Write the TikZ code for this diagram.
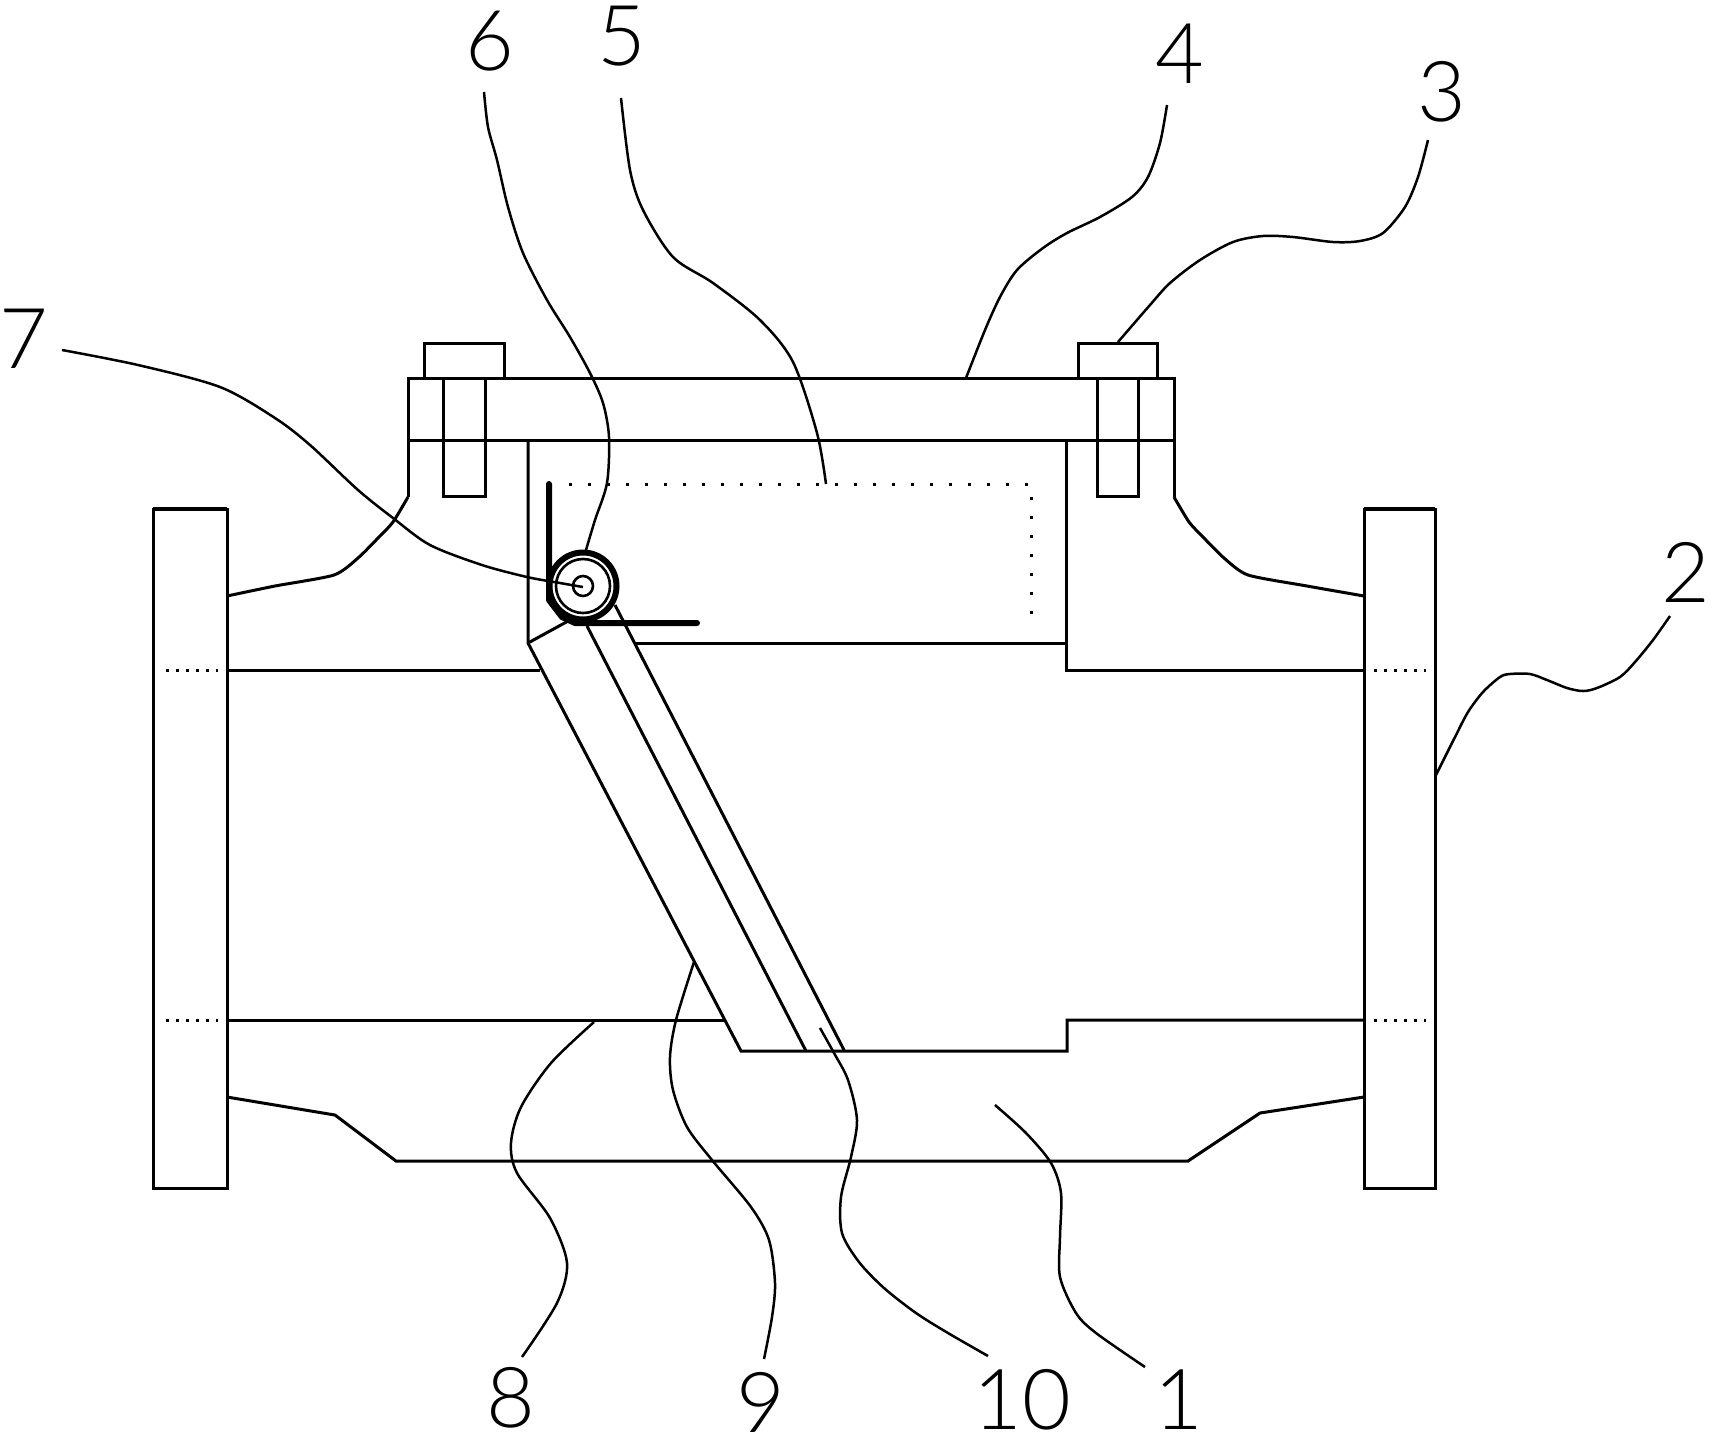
\documentclass[tikz,border=0pt]{standalone}
\usepackage{fontspec}
\newfontfamily\labelfont{Lato Light}
\tikzset{
    part/.style={draw, line width=1.5pt},
    leader/.style={draw, line width=1.25pt},
    heavy/.style={draw, line width=3pt, line cap=round, line join=round},
    dots/.style={draw, line width=1.5pt, dash pattern=on 1.5pt off 8pt},
    shortdots/.style={draw, line width=1.5pt, dash pattern=on 1.5pt off 3.5pt},
    num/.style={font=\labelfont\fontsize{42}{42}\selectfont, inner sep=0pt}
}
\begin{document}
\begin{tikzpicture}[x=.5pt, y=-.5pt]
    \useasboundingbox (0,0) rectangle (1718,1442);

    \draw[part] (153,509) rectangle (227,1188);
    \draw[part] (1364,509) rectangle (1435,1188);
    \draw[part, line width=2.2pt] (153,509) -- (227,509);
    \draw[part, line width=2.2pt] (1364,509) -- (1435,509);
    \draw[part] (408,378) rectangle (1174,440);
    \draw[part] (424,378) |- (504,343) -- (504,378);
    \draw[part] (1078,378) |- (1157,343) -- (1157,378);
    \draw[part] (443,378) rectangle (485,496);
    \draw[part] (1097,378) rectangle (1138,496);

    \draw[part] plot[smooth, tension=.4] coordinates {(408,497) (393,522) (379,537) (358,558) (334,575) (275,586) (227,596)};
    \draw[part] (408,440) -- (408,497);
    \draw[part] plot[smooth, tension=.4] coordinates {(1174,497) (1189,522) (1203,537) (1224,558) (1248,575) (1307,586) (1364,596)};
    \draw[part] (1174,440) -- (1174,497);
    \draw[part] (227,1097) -- (335,1115) -- (396,1161) -- (1188,1161) -- (1260,1113) -- (1364,1097);

    \draw[part] (227,670) -- (540,670);
    \draw[part] (227,1020) -- (725,1020);
    \draw[part] (528,440) -- (528,643) -- (741,1051) -- (1067,1051) -- (1067,1020) -- (1364,1020);
    \draw[part] (635,643) -- (1066,643) -- (1066,440);
    \draw[part] (1066,643) -- (1066,670) -- (1364,670);
    \draw[part] (528,643) -- (570,620);
    \draw[part] (587,626) -- (806,1051);
    \draw[part] (615,605) -- (844,1050);

    \draw[dots] (569,484) -- (1031,484) -- (1031,622);
    \foreach \yy in {670,1020} {
        \draw[shortdots] (166,\yy) -- (218,\yy);
        \draw[shortdots] (1374,\yy) -- (1426,\yy);
    }

    \node[circle, draw, line width=3pt, minimum size=33.5pt, inner sep=0pt] (roller) at (583,586) {};
    \node[circle, draw, line width=1.3pt, minimum size=27pt, inner sep=0pt] (sleeve) at (583,586) {};
    \node[circle, draw, line width=1.3pt, minimum size=10pt, inner sep=0pt] (axle) at (583,586) {};
    \draw[heavy] (549,484) -- (549,600) -- (562,617) -- (575,623) -- (697,623);

    \node[num] (n1) at (1179,1400) {1};
    \node[num] (n2) at (1686,572) {2};
    \node[num] (n3) at (1442,92) {3};
    \node[num] (n4) at (1180,54) {4};
    \node[num] (n5) at (622,36) {5};
    \node[num] (n6) at (490,41) {6};
    \node[num] (n7) at (24,339) {7};
    \node[num] (n8) at (511,1398) {8};
    \node[num] (n9) at (761,1402) {9};
    \node[num] (n10) at (1022,1400) {10};

    \coordinate (a1) at (1145,1367);
    \coordinate (a2) at (1670,616);
    \coordinate (a3) at (1428,140);
    \coordinate (a4) at (1167,105);
    \coordinate (a5) at (621,98);
    \coordinate (a6) at (484,92);
    \coordinate (a7) at (62,350);
    \coordinate (a8) at (522,1357);
    \coordinate (a9) at (764,1359);
    \coordinate (a10) at (988,1356);

    \draw[leader] plot[smooth] coordinates {(a1) (1096,1333) (1076,1313) (1060,1277) (1060,1237) (1061,1193) (1051,1163) (1026,1133) (995,1105)};
    \draw[leader] plot[smooth] coordinates {(a2) (1653,640) (1635,662) (1620,677) (1597,688) (1583,691) (1567,688) (1547,680) (1530,674) (1510,674) (1500,677) (1483,692) (1468,712) (1455,737) (1436,775)};
    \draw[leader] plot[smooth] coordinates {(a3) (1418,177) (1405,207) (1383,233) (1360,241) (1333,242) (1293,237) (1263,236) (1233,242) (1200,260) (1170,283) (1150,305) (1118,342)};
    \draw[leader] plot[smooth] coordinates {(a4) (1160,143) (1148,177) (1132,197) (1100,217) (1067,233) (1043,248) (1017,270) (1000,297) (985,330) (966,378)};
    \draw[leader] plot[smooth] coordinates {(a5) (630,170) (643,210) (673,257) (713,283) (760,320) (793,362) (817,433) (826,484)};
    \draw[leader] plot[smooth] coordinates {(a6) (488,127) (497,160) (508,207) (523,253) (547,300) (570,337) (590,373) (603,403) (609,437) (607,483) (595,520) (586,550)};
    \draw[leader] plot[smooth] coordinates {(a7) (138,365) (220,387) (275,418) (310,445) (358,490) (393,518) (430,545) (482,565) (527,577) (560,583) (583,587)};
    \draw[leader] plot[smooth] coordinates {(a8) (557,1303) (567,1263) (550,1218) (517,1173) (511,1143) (521,1107) (551,1063) (594,1022)};
    \draw[leader] plot[smooth] coordinates {(a9) (772,1317) (775,1283) (769,1240) (751,1207) (712,1160) (687,1127) (673,1090) (670,1057) (676,1020) (694,962)};
    \draw[leader] plot[smooth] coordinates {(a10) (948,1333) (916,1313) (884,1288) (859,1262) (842,1233) (841,1197) (851,1157) (857,1120) (848,1080) (834,1053) (820,1028)};
\end{tikzpicture}
\end{document}
